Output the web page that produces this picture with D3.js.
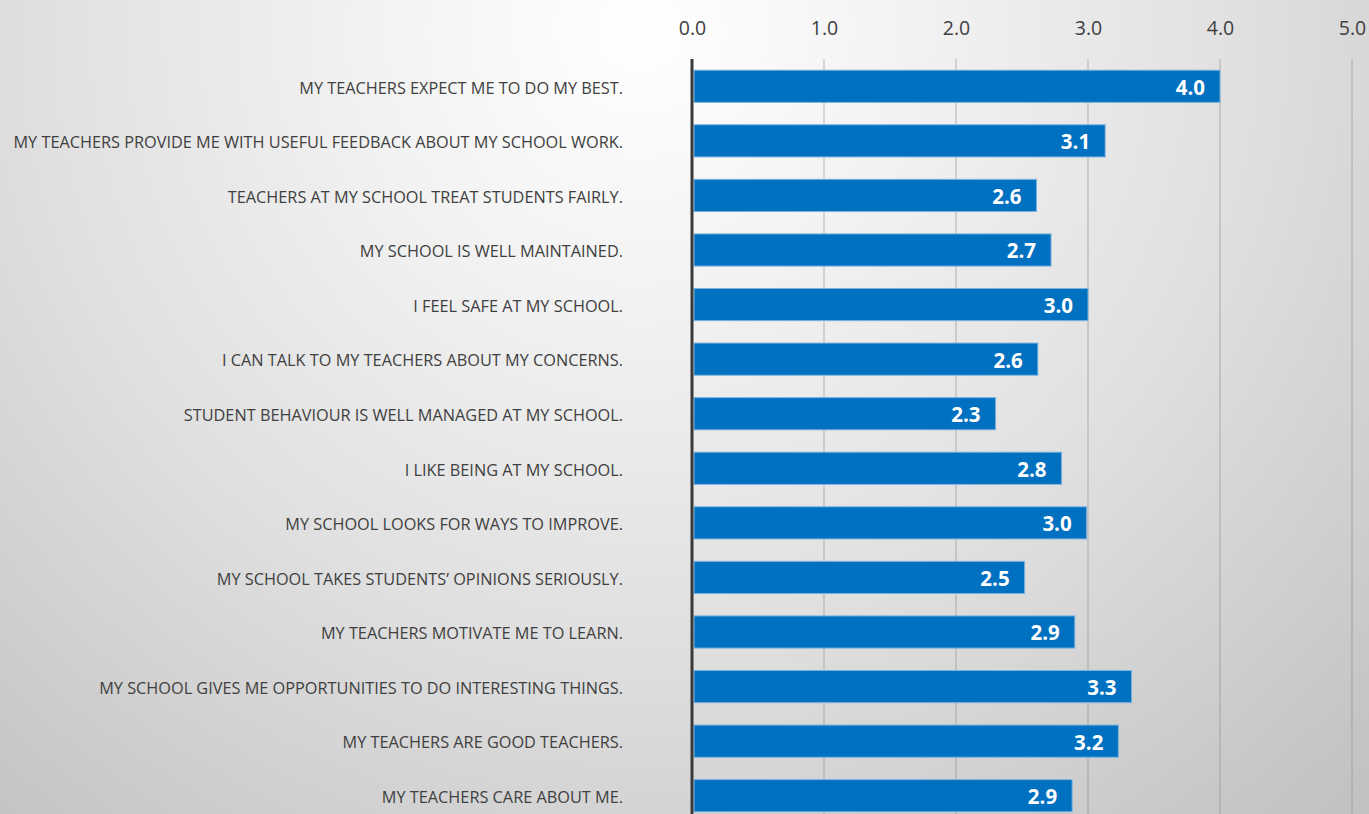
<!DOCTYPE html>
<html>
<head>
<meta charset="utf-8">
<script src="https://cdn.jsdelivr.net/npm/d3@7"></script>
<style>
  html, body { margin: 0; padding: 0; overflow: hidden; }
  svg { display: block; }
</style>
</head>
<body>
<svg id="chart" width="1369" height="814"></svg>
<script>
// Survey statements, top to bottom
const statements = [
  "MY TEACHERS EXPECT ME TO DO MY BEST.",
  "MY TEACHERS PROVIDE ME WITH USEFUL FEEDBACK ABOUT MY SCHOOL WORK.",
  "TEACHERS AT MY SCHOOL TREAT STUDENTS FAIRLY.",
  "MY SCHOOL IS WELL MAINTAINED.",
  "I FEEL SAFE AT MY SCHOOL.",
  "I CAN TALK TO MY TEACHERS ABOUT MY CONCERNS.",
  "STUDENT BEHAVIOUR IS WELL MANAGED AT MY SCHOOL.",
  "I LIKE BEING AT MY SCHOOL.",
  "MY SCHOOL LOOKS FOR WAYS TO IMPROVE.",
  "MY SCHOOL TAKES STUDENTS\u2019 OPINIONS SERIOUSLY.",
  "MY TEACHERS MOTIVATE ME TO LEARN.",
  "MY SCHOOL GIVES ME OPPORTUNITIES TO DO INTERESTING THINGS.",
  "MY TEACHERS ARE GOOD TEACHERS.",
  "MY TEACHERS CARE ABOUT ME."
];

// Mean agreement score for each statement
const scores = [4.00, 3.13, 2.61, 2.72, 3.00, 2.62, 2.30, 2.80, 2.99, 2.52, 2.90, 3.33, 3.23, 2.88];

// Axis ticks
const tickValues = [0, 1, 2, 3, 4, 5];

const W = 1369, H = 814;
const svg = d3.select("#chart");

// Soft radial backdrop
const defs = svg.append("defs");
const grad = defs.append("radialGradient")
  .attr("id", "bg")
  .attr("gradientUnits", "userSpaceOnUse")
  .attr("cx", 640).attr("cy", 30).attr("r", 1100);
[[0, "#ffffff"], [0.25, "#f2f2f2"], [0.55, "#e0e0e0"], [0.92, "#c4c4c4"], [1, "#c0c0c0"]]
  .forEach(([o, c]) => grad.append("stop").attr("offset", o).attr("stop-color", c));
svg.append("rect").attr("width", W).attr("height", H).attr("fill", "url(#bg)");

const x = d3.scaleLinear().domain([0, 5]).range([692, 1352]);
const y = d3.scaleBand().domain(statements).range([59, 823]).paddingInner(0.41).paddingOuter(0.205);

// Vertical gridlines
svg.append("g")
  .selectAll("line")
  .data(tickValues.filter(d => d > 0))
  .join("line")
  .attr("x1", d => x(d)).attr("x2", d => x(d))
  .attr("y1", 59).attr("y2", H)
  .attr("stroke", "#7a7a7a")
  .attr("stroke-opacity", 0.35)
  .attr("stroke-width", 1.5);

// Top axis labels
const axis = d3.axisTop(x).tickValues(tickValues).tickFormat(d3.format(".1f")).tickSize(0).tickPadding(0);
const gAxis = svg.append("g").attr("transform", "translate(0,35)").call(axis);
gAxis.select(".domain").remove();
gAxis.selectAll("text")
  .attr("font-family", "Open Sans, sans-serif")
  .attr("font-size", 19.5)
  .attr("fill", "#404040");

// Bars
svg.append("g")
  .selectAll("rect")
  .data(scores)
  .join("rect")
  .attr("x", x(0) + 2)
  .attr("y", (d, i) => y(statements[i]))
  .attr("width", d => x(d) - x(0) - 2)
  .attr("height", y.bandwidth())
  .attr("fill", "#0070c0")
  .attr("stroke", "#7fb3e0")
  .attr("stroke-width", 1);

// Value labels inside bar ends
svg.append("g")
  .selectAll("text")
  .data(scores)
  .join("text")
  .attr("x", d => x(d) - 15)
  .attr("y", (d, i) => y(statements[i]) + y.bandwidth() / 2 + 1)
  .attr("dy", "0.36em")
  .attr("text-anchor", "end")
  .attr("font-family", "Open Sans, sans-serif")
  .attr("font-weight", 700)
  .attr("font-size", 20.5)
  .attr("fill", "#ffffff")
  .text(d => d3.format(".1f")(d));

// Category labels
const yAxis = d3.axisLeft(y).tickSize(0).tickPadding(0);
const gY = svg.append("g").attr("transform", "translate(623,2)").call(yAxis);
gY.select(".domain").remove();
gY.selectAll("text")
  .attr("font-family", "Open Sans, sans-serif")
  .attr("font-size", 16.3)
  .attr("fill", "#404040");

// Value axis line
svg.append("line")
  .attr("x1", x(0)).attr("x2", x(0))
  .attr("y1", 59).attr("y2", H)
  .attr("stroke", "#3a3a3a")
  .attr("stroke-width", 3);
</script>
</body>
</html>
